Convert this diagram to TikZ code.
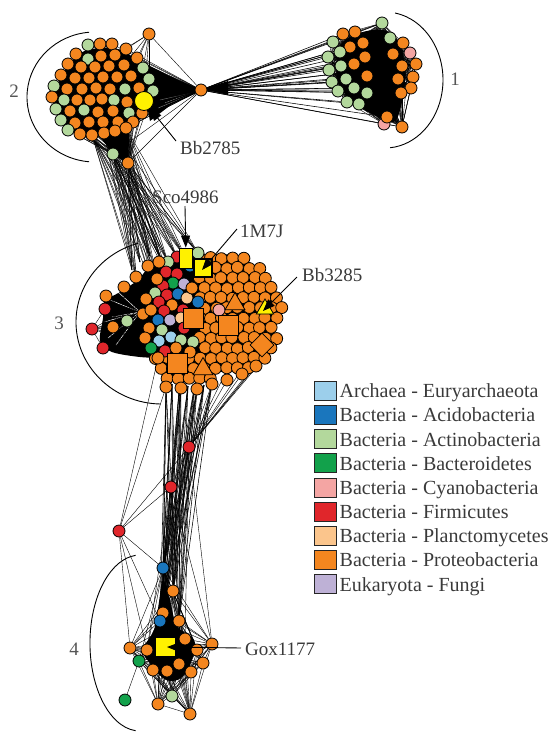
\documentclass[tikz,border=0pt]{standalone}
\usepackage{fontspec}
\setmainfont{Liberation Serif}
\usetikzlibrary{arrows.meta,shapes.geometric}
\pgfdeclarelayer{bg}
\pgfsetlayers{bg,main}
\definecolor{cOr}{HTML}{F4861F}
\definecolor{cLg}{HTML}{B3D89C}
\definecolor{cRd}{HTML}{E0262B}
\definecolor{cBl}{HTML}{1A76BD}
\definecolor{cLb}{HTML}{9CCFEB}
\definecolor{cGr}{HTML}{12A14B}
\definecolor{cPk}{HTML}{F4A5A3}
\definecolor{cPl}{HTML}{FBC58C}
\definecolor{cPu}{HTML}{BEB1D6}
\definecolor{cYe}{HTML}{FFF100}
\definecolor{txt}{HTML}{3A3A3A}
\definecolor{numc}{HTML}{555555}
\begin{document}
\begin{tikzpicture}[x=1pt,y=-1pt,
  nd/.style={circle,draw=black,line width=0.8pt,minimum size=12pt,inner sep=0pt},
  sqb/.style={rectangle,draw=black,line width=0.8pt,minimum size=20pt,inner sep=0pt,fill=cOr},
  trib/.style={regular polygon,regular polygon sides=3,draw=black,line width=0.8pt,minimum size=23pt,inner sep=0pt,fill=cOr},
  diab/.style={diamond,draw=black,line width=0.8pt,minimum size=24pt,inner sep=0pt,fill=cOr},
  ed/.style={line width=0.4pt,black},
  edb/.style={line width=0.55pt,black},
  arcline/.style={line width=0.9pt,black},
  lab/.style={font=\fontsize{19}{22}\selectfont,text=txt,inner sep=0pt,anchor=base west},
  num/.style={font=\fontsize{19}{22}\selectfont,text=numc,inner sep=0pt,anchor=base},
  arr/.style={line width=0.9pt,-{Triangle[length=12pt,width=9pt]}},
  legbox/.style={rectangle,draw=black!85,line width=1pt,minimum width=22pt,minimum height=19pt,inner sep=0pt},
  legtxt/.style={font=\fontsize{20}{24}\selectfont,text=txt,inner sep=0pt,anchor=base west}
]
\useasboundingbox (0,0) rectangle (551,732);

% ---------------- cluster 2 ----------------
\foreach \x/\y/\c [count=\k] in {
 88/45/cLg,100/44/cOr,112/44/cOr,126/49/cOr,
 76/54/cOr,88/59/cLg,101/56/cOr,115/55/cOr,137/58/cOr,
 68/64/cOr,81/67/cOr,95/67/cOr,109/66/cOr,124/65/cOr,143/68/cLg,
 61/75/cOr,75/78/cOr,89/78/cOr,103/77/cOr,117/77/cOr,131/76/cOr,149/79/cLg,
 54/86/cLg,67/89/cOr,82/89/cOr,96/88/cOr,110/89/cOr,125/89/cLg,139/88/cOr,153/91/cLg,
 52/97/cOr,64/100/cLg,77/100/cOr,90/100/cOr,102/99/cOr,114/100/cLg,127/102/cOr,
 56/109/cLg,70/111/cOr,84/110/cLg,98/112/cOr,113/111/cOr,129/113/cLg,142/113/cOr,
 61/120/cLg,75/123/cOr,89/122/cOr,103/122/cOr,118/122/cOr,133/122/cOr,
 68/130/cLg,80/134/cOr,92/135/cOr,104/133/cOr,115/131/cOr,126/128/cOr}
 {\node[nd,fill=\c] (p\k) at (\x,\y) {};}
\node[nd,fill=cYe,minimum size=19pt] (y2) at (144,101) {};
\node[nd,fill=cOr] (ph) at (201,90) {};
\node[nd,fill=cOr] (pt) at (149,34) {};
\node[nd,fill=cLg] (pg) at (113,154) {};
\node[nd,fill=cOr] (pb) at (128,163) {};

% ---------------- cluster 1 ----------------
\foreach \x/\y/\c [count=\k] in {
 382/23/cLg,343/34/cOr,355/32/cOr,333/42/cLg,350/47/cOr,363/43/cOr,390/38/cLg,403/43/cOr,
 410/53/cPk,393/54/cOr,328/57/cLg,340/52/cLg,365/57/cOr,354/64/cOr,402/66/cOr,416/64/cOr,
 329/70/cLg,341/66/cLg,367/76/cOr,398/79/cOr,413/77/cOr,332/82/cLg,346/79/cLg,411/88/cOr,
 401/93/cOr,338/91/cLg,354/88/cLg,367/93/cLg,347/102/cLg,359/104/cLg,384/124/cPk,387/117/cOr,402/127/cOr}
 {\node[nd,fill=\c] (q\k) at (\x,\y) {};}

% ---------------- cluster 3 ----------------
\pgfmathsetseed{42}
\foreach \j in {0,...,13}{
  \foreach \i in {0,...,13}{
    \pgfmathsetmacro\xx{150+\i*11+mod(\j,2)*5.5+0.7*rand}
    \pgfmathsetmacro\yy{248+\j*10+0.7*rand}
    \pgfmathsetmacro\ea{((\xx-221)/62)*((\xx-221)/62)+((\yy-313)/64)*((\yy-313)/64)}
    \pgfmathsetmacro\eb{((\xx-186)/36)*((\xx-186)/36)+((\yy-360)/26)*((\yy-360)/26)}
    \pgfmathtruncatemacro\ok{((\ea<1)||(\eb<1))&&((\xx>197)||(\yy>350))&&(\yy<380)}
    \ifnum\ok=1 \node[nd,fill=cOr] (g\i-\j) at (\xx,\yy) {};\fi
  }
}
\foreach \x/\y/\c [count=\k] in {
 177/257/cRd,168/262/cLg,190/266/cBl,198/253/cLg,166/272/cRd,177/274/cRd,173/283/cGr,184/284/cPu,
 163/286/cRd,155/293/cLg,167/295/cRd,178/294/cBl,187/298/cPl,159/302/cRd,172/305/cOr,198/302/cBl,
 164/311/cRd,183/310/cRd,158/320/cBl,170/320/cPu,181/318/cPl,127/321/cLg,162/330/cLg,184/328/cRd,
 171/337/cLb,159/341/cLb,181/340/cLg,193/342/cLg,151/348/cGr,165/351/cRd,
 136/277/cOr,157/279/cOr,146/299/cOr,143/314/cOr,149/328/cOr,145/338/cOr,
 106/296/cOr,105/309/cRd,92/329/cRd,113/327/cOr,103/348/cRd,219/310/cPk,
 158/358/cOr,166/387/cOr,181/388/cOr,197/389/cOr,212/384/cOr,227/380/cOr,242/374/cOr,256/366/cOr,
 192/288/cOr,151/310/cOr,176/348/cOr,190/352/cOr,148/266/cOr,159/262/cOr,124/287/cOr}
 {\node[nd,fill=\c] (c\k) at (\x,\y) {};}
\node[sqb] (sq1) at (193,318) {};
\node[sqb] (sq2) at (228,325) {};
\node[sqb] (sq3) at (177,363) {};
\node[trib] (tr1) at (235,304) {};
\node[trib] (tr2) at (203,369) {};
\node[diab] (dm1) at (262,345) {};
\node[rectangle,draw=black,line width=0.8pt,fill=cYe,minimum width=13pt,minimum height=20pt,inner sep=0pt] (sco) at (186,258) {};
\node[rectangle,draw=black,line width=1.6pt,fill=cYe,minimum size=18pt,inner sep=0pt] (m7j) at (203,268) {};
\node[regular polygon,regular polygon sides=3,draw=black,line width=0.8pt,fill=cYe,minimum size=20pt,inner sep=0pt] (bbt) at (265,309) {};
\foreach \n/\x/\y in {t1/140/262,t2/150/256,t3/160/257,t4/132/270,b1/172/384,b2/188/386,b3/204/385,b4/222/380,b5/238/375,b6/252/368,b7/266/356,b8/275/342,b9/180/380,b10/195/383}
 {\coordinate (\n) at (\x,\y);}

% ---------------- middle red nodes ----------------
\node[nd,fill=cRd] (r1) at (189,447) {};
\node[nd,fill=cRd] (r2) at (171,487) {};
\node[nd,fill=cRd] (r3) at (119,531) {};

% ---------------- cluster 4 ----------------
\foreach \x/\y/\c [count=\k] in {
 163/568/cBl,173/591/cOr,163/613/cOr,160/621/cBl,179/621/cOr,130/648/cOr,147/650/cOr,185/639/cOr,
 212/644/cOr,197/650/cOr,203/663/cOr,191/672/cOr,179/664/cOr,167/671/cOr,153/670/cOr,139/661/cGr,
 172/696/cLg,158/704/cOr,190/714/cOr,125/700/cGr}
 {\node[nd,fill=\c] (d\k) at (\x,\y) {};}
\node[rectangle,draw=black,line width=0.8pt,fill=cYe,minimum width=20pt,minimum height=19pt,inner sep=0pt] (gox) at (165,647) {};

% ---------------- edges ----------------
\begin{pgfonlayer}{bg}
 % cluster 2 core
 \fill[black] plot[smooth cycle,tension=0.7] coordinates {(88,50) (112,48) (130,55) (145,72) (152,92) (147,112) (130,125) (112,133) (90,137) (70,130) (58,115) (55,95) (62,75) (75,58)};
 \fill[black] (95,130) -- (130,118) -- (128,163) -- (113,154) -- cycle;
 \fill[black] (138,60) -- (170,76) -- (199,89) -- (199,92) -- (172,104) -- (150,121) -- cycle;
 \foreach \ua/\ub/\uc/\ud in {160/100/195/92,158/108/194/93,165/103/196/91}{\draw[white,line width=0.45pt] (\ua,\ub) -- (\uc,\ud);}
 \foreach \k in {1,...,56}{\draw[ed] (ph) -- (p\k); \draw[ed] (pb) -- (p\k);}
 \foreach \k in {43,45,49,50,51,52,53,54,55,56}{\draw[ed] (pg) -- (p\k);}
 \foreach \k in {4,8,9,14,15,21,22}{\draw[ed] (pt) -- (p\k);}
 \draw[ed] (pt) -- (ph); \draw[ed] (pt) -- (y2);
 \draw[line width=1.2pt] (ph) -- (y2);
 \foreach \k in {pb,pg,p56,p50}{\draw[ed] (ph) -- (\k);}
 % cluster 1
 \fill[black] plot[smooth cycle,tension=0.7] coordinates {(348,38) (383,30) (400,46) (405,78) (400,110) (393,122) (380,118) (356,104) (340,86) (337,58)};
 \foreach \a in {1,...,32}{\pgfmathtruncatemacro\s{\a+1}\foreach \b in {\s,...,33}{\draw[ed] (q\a) -- (q\b);}}
 \foreach \k in {1,...,33}{\draw[edb] (ph) -- (q\k);}
 \fill[black] (203,89) -- (228,81) -- (228,95) -- cycle;
 % cluster 3 core
 \fill[black] (221,313) ellipse [x radius=57,y radius=59];
 \fill[black] (186,362) ellipse [x radius=30,y radius=20];
 \fill[black] plot[smooth cycle,tension=0.5] coordinates {(150,266) (168,258) (200,252) (205,300) (200,350) (160,357) (140,357) (112,352) (100,341) (103,318) (104,302) (120,292) (138,280)};
 \foreach \ua/\ub in {110/300,112/317,108/338,116/345,104/322,118/292}
   {\draw[white,line width=0.5pt] (\ua,\ub) -- (140,312);}
 \foreach \a in {c37,c38,c39,c40,c41}{\foreach \b in {c22,c33,c34,c35,c36,c29}{\draw[ed] (\a) -- (\b);}}
 \draw[ed] (c37) -- (c38); \draw[ed] (c38) -- (c39); \draw[ed] (c39) -- (c41);
 \draw[ed] (c39) -- (c40); \draw[ed] (c38) -- (c40); \draw[ed] (c40) -- (c41); \draw[ed] (c38) -- (c41);
 % cluster 2 -> cluster 3
 \foreach \s in {pg,pb,p56,p55,p54,p53}{\foreach \t in {c31,c32,c2,c1,sco,c5,c4,t1,t2,t3,t4,c10}{\draw[ed] (\s) -- (\t);}}
 % cluster 3 -> middle -> cluster 4
 \foreach \s in {c44,c45,c46,c47,b1,b2,b3,b9,b10}{\foreach \t in {d1,d2,d3,d4,d5}{\draw[edb] (\s) -- (\t);}}
 \foreach \s in {c47,c48,c49,c50,b4,b5,b6,b7,b8}{\draw[ed] (\s) -- (r1);}
 \foreach \t in {d1,d2,d3,d4,d5,d8,d9,r2}{\draw[ed] (r1) -- (\t);}
 \foreach \t in {d1,d2,d4,d5,d9,d7}{\draw[ed] (r2) -- (\t);}
 \foreach \t in {c43,c44,r1,r2,d1,d4,d6,d7}{\draw[ed] (r3) -- (\t);}
 % cluster 4
 \fill[black] plot[smooth cycle,tension=0.6] coordinates {(163,580) (170,600) (177,626) (194,640) (192,660) (181,678) (166,680) (153,667) (143,650) (154,630) (159,602)};
 \foreach \a in {1,...,18}{\pgfmathtruncatemacro\s{\a+1}\foreach \b in {\s,...,19}{\draw[ed] (d\a) -- (d\b);}}
 \draw[ed] (d16) -- (d20);
\end{pgfonlayer}

% ---------------- arcs ----------------
\draw[arcline] (89.07,161.75) arc[start angle=95,end angle=265,x radius=68,y radius=65];
\draw[arcline] (395.07,13.03) arc[start angle=-80,end angle=85,x radius=58,y radius=68];
\draw[arcline] (160.5,404) arc[start angle=91,end angle=254,x radius=86,y radius=82];
\draw[arcline] (135.6,730.7) arc[start angle=95,end angle=265,x radius=50,y radius=88];

% ---------------- labels and pointers ----------------
\node[num] (n1) at (455,85) {1};
\node[num] (n2) at (14,97) {2};
\node[num] (n3) at (59,329) {3};
\node[num] (n4) at (74,655) {4};
\node[lab] (lbb1) at (180,154) {Bb2785};
\node[lab] (lsco) at (152,203) {Sco4986};
\node[lab] (lm7j) at (240,237) {1M7J};
\node[lab] (lbb2) at (302,281) {Bb3285};
\node[lab] (lgox) at (245,655) {Gox1177};
\coordinate (s1) at (176,141);
\coordinate (s2) at (185,206);
\coordinate (s3) at (237,229);
\coordinate (s4) at (297,277);
\coordinate (s5) at (241,648);
\draw[arr] (s1) -- (y2);
\draw[arr] (s2) -- (sco);
\draw[arr] (s3) -- ([xshift=-1pt,yshift=-2pt]m7j.center);
\draw[arr] (s4) -- ([xshift=-2pt,yshift=-2pt]bbt.center);
\draw[arr] (s5) -- ([xshift=2pt]gox.center);

% ---------------- legend ----------------
\foreach \c/\t [count=\k] in {cLb/Archaea - Euryarchaeota,cBl/Bacteria - Acidobacteria,cLg/Bacteria - Actinobacteria,cGr/Bacteria - Bacteroidetes,cPk/Bacteria - Cyanobacteria,cRd/Bacteria - Firmicutes,cPl/Bacteria - Planctomycetes,cOr/Bacteria - Proteobacteria,cPu/Eukaryota - Fungi}{
  \pgfmathsetmacro\ly{391+(\k-1)*24.15}
  \node[legbox,fill=\c] (L\k) at (325,\ly) {};
  \node[legtxt] (T\k) at ([xshift=3pt,yshift=-6.8pt]L\k.east) {\t};
}
\end{tikzpicture}
\end{document}
